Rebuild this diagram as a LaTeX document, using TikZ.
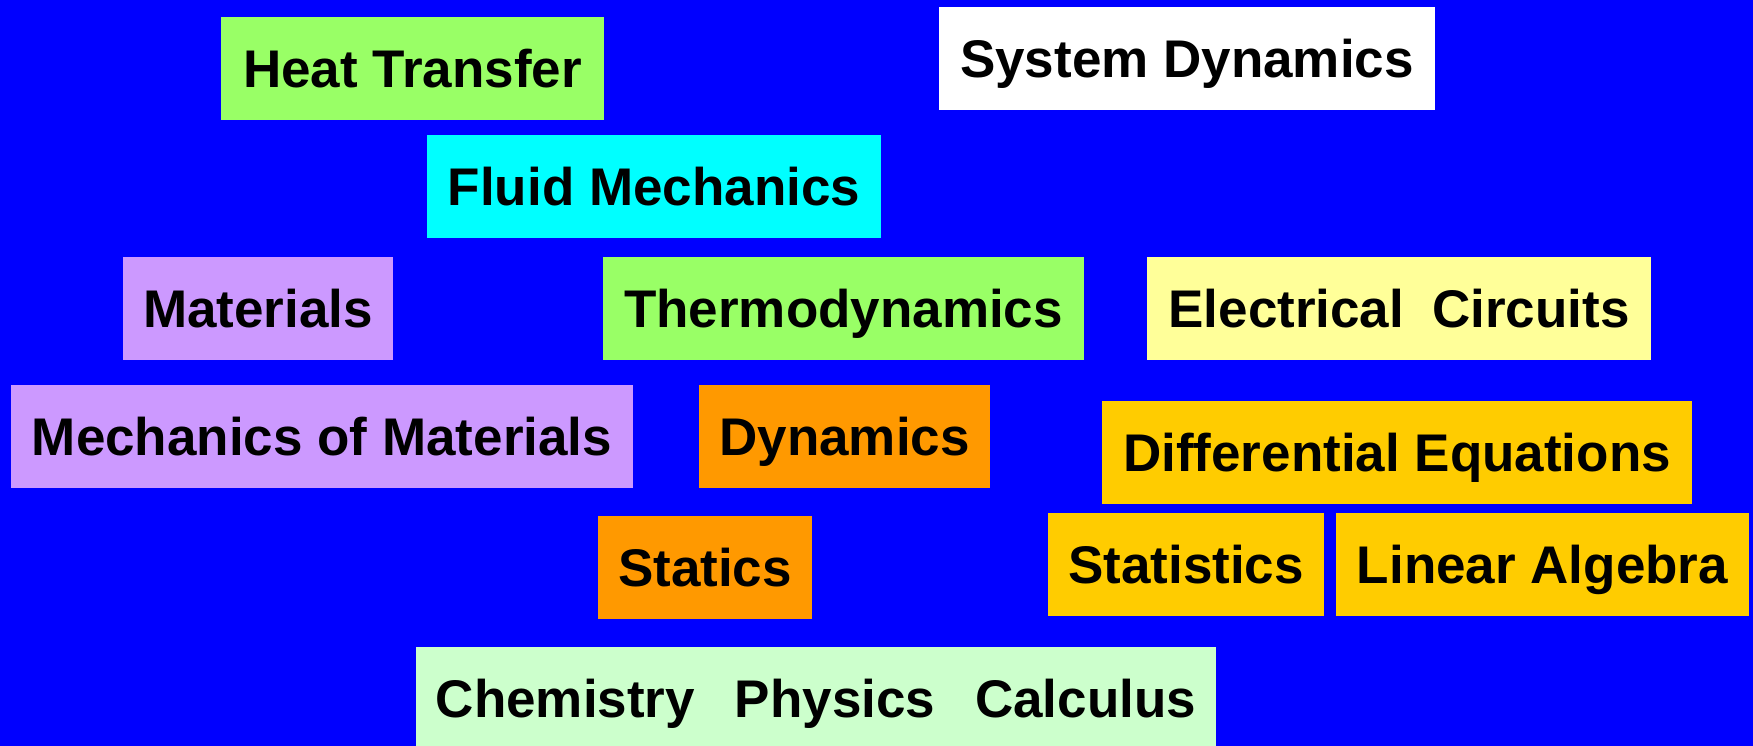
\documentclass[tikz,border=0pt]{standalone}
\usepackage{fontspec}
\setmainfont{Liberation Sans}
\definecolor{bgblue}{HTML}{0000FF}
\definecolor{lgreen}{HTML}{99FF66}
\definecolor{lcyan}{HTML}{00FFFF}
\definecolor{lav}{HTML}{CC99FF}
\definecolor{lyellow}{HTML}{FFFF99}
\definecolor{orng}{HTML}{FF9900}
\definecolor{gold}{HTML}{FFCC00}
\definecolor{mint}{HTML}{CCFFCC}
\tikzset{
  subj/.style={fill=#1, draw=none, inner sep=0pt, minimum height=103pt,
    text height=38pt, text depth=0pt, anchor=center,
    font=\fontsize{53}{60}\selectfont\bfseries, text=black}
}
\begin{document}
\begin{tikzpicture}[x=1pt,y=-1pt]
\useasboundingbox (0,0) rectangle (1753,746);
\fill[bgblue] (0,0) rectangle (1753,746);
\node[subj=lgreen, minimum width=383pt] (ht) at (412.5,68.5) {Heat Transfer};
\node[subj=white, minimum width=496pt] (sd) at (1187,58.5) {System Dynamics};
\node[subj=lcyan, minimum width=454pt] (fm) at (654,186.5) {Fluid Mechanics};
\node[subj=lav, minimum width=270pt] (mat) at (258,308.5) {Materials};
\node[subj=lgreen, minimum width=481pt] (th) at (843.5,308.5) {Thermodynamics};
\node[subj=lyellow, minimum width=504pt] (ec) at (1399,308.5) {Electrical\hspace{28pt}Circuits};
\node[subj=lav, minimum width=622pt] (mom) at (322,436.5) {Mechanics of Materials};
\node[subj=orng, minimum width=291pt] (dyn) at (844.5,436.5) {Dynamics};
\node[subj=gold, minimum width=590pt] (de) at (1397,452.5) {Differential Equations};
\node[subj=orng, minimum width=214pt] (st) at (705,567.5) {Statics};
\node[subj=gold, minimum width=276pt] (sts) at (1186,564.5) {Statistics};
\node[subj=gold, minimum width=413pt] (la) at (1542.5,564.5) {Linear Algebra};
\node[subj=mint, minimum width=800pt] (cpc) at (816,698.5) {Chemistry\hspace{40pt}Physics\hspace{40pt}Calculus};
\end{tikzpicture}
\end{document}
